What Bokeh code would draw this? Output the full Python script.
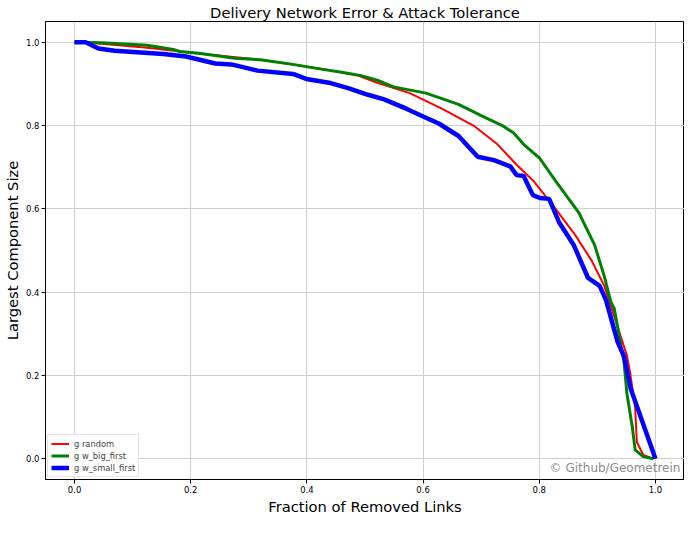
from bokeh.plotting import figure
from bokeh.models import Label, NumeralTickFormatter, Range1d
from bokeh.embed import file_html
from bokeh.resources import INLINE

title_text = "Delivery Network Error & Attack Tolerance"
x_label = "Fraction of Removed Links"
y_label = "Largest Component Size"
watermark = "\u00a9 Github/Geometrein"
ticks = [0.0, 0.2, 0.4, 0.6, 0.8, 1.0]

random_x = [0, 0.041, 0.125, 0.209, 0.320, 0.432, 0.488, 0.521, 0.577, 0.633, 0.689, 0.728,
            0.761, 0.790, 0.828, 0.862, 0.890, 0.912, 0.935, 0.951, 0.957, 0.965, 0.968, 0.979, 0.996]
random_y = [1.0, 0.997, 0.987, 0.974, 0.958, 0.935, 0.920, 0.903, 0.878, 0.840, 0.798, 0.755,
            0.706, 0.667, 0.600, 0.537, 0.476, 0.415, 0.316, 0.247, 0.201, 0.124, 0.040, 0.009, 0.0]

big_x = [0, 0.047, 0.125, 0.170, 0.181, 0.214, 0.276, 0.320, 0.376, 0.427, 0.460, 0.493, 0.521,
         0.549, 0.605, 0.661, 0.700, 0.739, 0.756, 0.773, 0.801, 0.828, 0.856, 0.868, 0.895, 0.912,
         0.923, 0.929, 0.946, 0.951, 0.960, 0.965, 0.979, 0.996]
big_y = [1.0, 0.999, 0.993, 0.983, 0.978, 0.974, 0.962, 0.958, 0.947, 0.935, 0.928, 0.920, 0.909,
         0.893, 0.878, 0.851, 0.824, 0.798, 0.782, 0.755, 0.721, 0.667, 0.614, 0.591, 0.514, 0.438,
         0.377, 0.361, 0.231, 0.155, 0.078, 0.021, 0.005, 0.0]

small_x = [0, 0.019, 0.041, 0.069, 0.153, 0.192, 0.242, 0.270, 0.315, 0.376, 0.399, 0.438, 0.471,
           0.505, 0.533, 0.572, 0.600, 0.627, 0.661, 0.694, 0.722, 0.750, 0.761, 0.773, 0.789,
           0.801, 0.817, 0.834, 0.859, 0.884, 0.904, 0.915, 0.935, 0.946, 0.957, 1.0]
small_y = [1.0, 1.0, 0.985, 0.980, 0.972, 0.966, 0.949, 0.947, 0.932, 0.924, 0.912, 0.903, 0.890,
           0.874, 0.863, 0.840, 0.822, 0.805, 0.775, 0.725, 0.717, 0.702, 0.681, 0.679, 0.633,
           0.626, 0.624, 0.568, 0.514, 0.434, 0.415, 0.380, 0.280, 0.245, 0.170, 0.0]

FONT = "DejaVu Sans"

p = figure(width=684, height=517, output_backend="svg", toolbar_location=None,
           x_range=Range1d(-0.05, 1.05), y_range=Range1d(-0.05, 1.05),
           min_border_left=2, min_border_right=0, min_border_top=2, min_border_bottom=2)

p.title.text = title_text
p.title.text_font = FONT
p.title.text_font_size = "14.7px"
p.title.text_font_style = "normal"
p.title.text_color = "black"
p.title.align = "center"
p.title.standoff = 2

p.outline_line_color = "black"
p.outline_line_width = 1
p.background_fill_color = "white"

for ax in (p.xaxis, p.yaxis):
    ax.ticker = ticks
    ax.formatter = NumeralTickFormatter(format="0.0")
    ax.major_label_text_font = FONT
    ax.major_label_text_font_size = "8.5px"
    ax.major_label_text_color = "black"
    ax.axis_label_text_font = FONT
    ax.axis_label_text_font_size = "14.7px"
    ax.axis_label_text_font_style = "normal"
    ax.axis_label_text_color = "black"
    ax.axis_line_color = "black"
    ax.major_tick_line_color = "black"
    ax.major_tick_out = 4
    ax.major_tick_in = 0
    ax.minor_tick_line_color = None
    ax.major_label_standoff = 2
    ax.axis_label_standoff = 2

p.xaxis.axis_label = x_label
p.yaxis.axis_label = y_label

p.grid.grid_line_color = "#cfcfcf"
p.grid.grid_line_width = 1

p.line(random_x, random_y, line_color="#ff0000", line_width=2, legend_label="g random")
p.line(big_x, big_y, line_color="#008000", line_width=3, legend_label="g w_big_first")
p.line(small_x, small_y, line_color="#0000ff", line_width=4.5, legend_label="g w_small_first")

p.legend.location = "bottom_left"
p.legend.label_text_font = FONT
p.legend.label_text_font_size = "8.3px"
p.legend.glyph_width = 18
p.legend.glyph_height = 11
p.legend.label_height = 11
p.legend.label_standoff = 5
p.legend.spacing = 1
p.legend.padding = 3
p.legend.margin = 2
p.legend.border_line_color = "#cccccc"
p.legend.background_fill_alpha = 0.9

wm = Label(x=1.043, y=-0.04, text=watermark, text_align="right", text_baseline="bottom",
           text_font=FONT, text_font_size="12px", text_color="#8c8c8c")
p.add_layout(wm)

open("out.html", "w").write(file_html(p, INLINE))
